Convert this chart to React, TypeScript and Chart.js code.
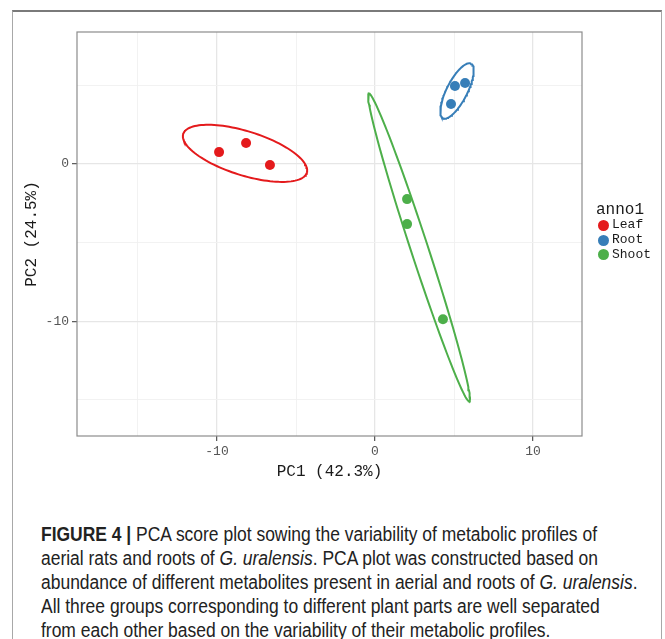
import React, { useEffect, useLayoutEffect, useRef } from "react";
import { Chart, registerables } from "chart.js";
Chart.register(...registerables);

// ---- data ----
const groups = ["Leaf", "Root", "Shoot"];
const groupColors = ["#E41A1C", "#377EB8", "#4DAF4A"];
const leafPC1 = [-9.87, -8.16, -6.65];
const leafPC2 = [0.76, 1.34, -0.06];
const rootPC1 = [5.06, 5.7, 4.81];
const rootPC2 = [4.97, 5.16, 3.82];
const shootPC1 = [2.03, 2.03, 4.3];
const shootPC2 = [-2.23, -3.82, -9.87];
// confidence-ellipse shape per group (semi-axes in PC units, rotation in degrees)
const ellipseSemiMajor = [4.1, 1.95, 10.3];
const ellipseSemiMinor = [1.4, 0.65, 0.55];
const ellipseAngleDeg = [-17.5, 63, -72];
const xLimits = [-18.86, 13.1];
const yLimits = [-17.3, 8.4];
const xTickLabels = [-10, 0, 10];
const yTickLabels = [-10, 0];
const gridStep = 5;
const xTitle = "PC1 (42.3%)";
const yTitle = "PC2 (24.5%)";
const legendTitle = "anno1";

const MONO = "'Liberation Mono', 'DejaVu Sans Mono', monospace";
const CAPTION_FONT = "'Liberation Sans', Arial, sans-serif";

function mean(a: number[]) {
  return a.reduce((s, v) => s + v, 0) / a.length;
}

function ellipseOutline(cx: number, cy: number, a: number, b: number, deg: number) {
  const th = (deg * Math.PI) / 180;
  const pts: { x: number; y: number }[] = [];
  const n = 120;
  for (let i = 0; i <= n; i++) {
    const t = (i / n) * Math.PI * 2;
    pts.push({
      x: cx + a * Math.cos(t) * Math.cos(th) - b * Math.sin(t) * Math.sin(th),
      y: cy + a * Math.cos(t) * Math.sin(th) + b * Math.sin(t) * Math.cos(th),
    });
  }
  return pts;
}

const frameBorder = {
  id: "frameBorder",
  afterDraw(chart: any) {
    const { ctx, chartArea } = chart;
    ctx.save();
    ctx.strokeStyle = "#8c8c8c";
    ctx.lineWidth = 1.2;
    ctx.strokeRect(chartArea.left, chartArea.top, chartArea.right - chartArea.left, chartArea.bottom - chartArea.top);
    ctx.restore();
  },
};

function buildTicks(scale: any) {
  const ticks: { value: number }[] = [];
  const start = Math.ceil(scale.min / gridStep) * gridStep;
  for (let v = start; v <= scale.max; v += gridStep) ticks.push({ value: v });
  scale.ticks = ticks;
}

export default function App() {
  const ref = useRef<HTMLCanvasElement>(null);
  const capRef = useRef<HTMLDivElement>(null);
  const line2Ref = useRef<HTMLSpanElement>(null);

  useLayoutEffect(() => {
    // condense caption horizontally so the second line spans the same width as in the figure
    if (capRef.current && line2Ref.current) {
      const w = line2Ref.current.getBoundingClientRect().width;
      if (w > 0) capRef.current.style.transform = `scaleX(${557 / w})`;
    }
  }, []);

  useEffect(() => {
    const xs = [leafPC1, rootPC1, shootPC1];
    const ys = [leafPC2, rootPC2, shootPC2];
    const pointSets = groups.map((g, i) => ({
      type: "scatter" as const,
      label: g,
      data: xs[i].map((x, j) => ({ x, y: ys[i][j] })),
      backgroundColor: groupColors[i],
      borderWidth: 0,
      pointRadius: 5,
      order: 1,
    }));
    const ellipseSets = groups.map((g, i) => ({
      type: "scatter" as const,
      label: g + " ellipse",
      data: ellipseOutline(mean(xs[i]), mean(ys[i]), ellipseSemiMajor[i], ellipseSemiMinor[i], ellipseAngleDeg[i]),
      showLine: true,
      borderColor: groupColors[i],
      borderWidth: 2,
      pointRadius: 0,
      fill: false,
      tension: 0,
      order: 0,
    }));

    const isX = (v: number) => xTickLabels.some((t) => Math.abs(t - v) < 1e-9);
    const isY = (v: number) => yTickLabels.some((t) => Math.abs(t - v) < 1e-9);

    const chart = new Chart(ref.current!, {
      type: "scatter",
      data: { datasets: [...pointSets, ...ellipseSets] as any },
      plugins: [frameBorder],
      options: {
        animation: false,
        responsive: false,
        maintainAspectRatio: false,
        layout: { padding: { top: 32, right: 83, left: 0, bottom: 0 } },
        plugins: { legend: { display: false }, tooltip: { enabled: false } },
        scales: {
          x: {
            type: "linear",
            min: xLimits[0],
            max: xLimits[1],
            afterBuildTicks: buildTicks,
            afterFit: (s: any) => {
              s.height = 64;
            },
            border: { display: false },
            grid: {
              color: (c: any) => (c.tick && isX(c.tick.value) ? "#e6e6e6" : "#f1f1f1"),
              lineWidth: (c: any) => (c.tick && isX(c.tick.value) ? 1.3 : 0.9),
              tickColor: (c: any) => (c.tick && isX(c.tick.value) ? "#555555" : "rgba(0,0,0,0)"),
              tickLength: 5,
              tickWidth: 1.2,
            },
            ticks: {
              autoSkip: false,
              maxRotation: 0,
              padding: 3,
              color: "#555555",
              font: { family: MONO, size: 13 },
              callback: (v: any) => (isX(Number(v)) ? String(v) : ""),
            },
            title: {
              display: true,
              text: xTitle,
              color: "#1a1a1a",
              font: { family: MONO, size: 16 },
              padding: { top: 0, bottom: 19 },
            },
          },
          y: {
            type: "linear",
            min: yLimits[0],
            max: yLimits[1],
            afterBuildTicks: buildTicks,
            afterFit: (s: any) => {
              s.width = 77;
            },
            border: { display: false },
            grid: {
              color: (c: any) => (c.tick && isY(c.tick.value) ? "#e6e6e6" : "#f1f1f1"),
              lineWidth: (c: any) => (c.tick && isY(c.tick.value) ? 1.3 : 0.9),
              tickColor: (c: any) => (c.tick && isY(c.tick.value) ? "#555555" : "rgba(0,0,0,0)"),
              tickLength: 5,
              tickWidth: 1.2,
            },
            ticks: {
              autoSkip: false,
              padding: 3,
              color: "#555555",
              font: { family: MONO, size: 13 },
              callback: (v: any) => (isY(Number(v)) ? String(v) : ""),
            },
            title: {
              display: true,
              text: yTitle,
              color: "#1a1a1a",
              font: { family: MONO, size: 16 },
              padding: { top: 22, bottom: 0 },
            },
          },
        },
      } as any,
    });
    return () => chart.destroy();
  }, []);

  const legendRowY = [225, 240, 254.5];
  const captionTop = 521.5;
  const lineH = 24.2;

  return (
    <div style={{ position: "absolute", left: 0, top: 0, width: 665, height: 639, overflow: "hidden", background: "#fff" }}>
      {/* outer figure frame */}
      <div
        style={{
          position: "absolute",
          left: 12,
          top: 10,
          width: 650,
          height: 640,
          borderTop: "2px solid #7a7a7a",
          borderLeft: "1.5px solid #a8a8a8",
          borderRight: "1.5px solid #a8a8a8",
          boxSizing: "border-box",
        }}
      />
      <canvas ref={ref} width={665} height={500} style={{ position: "absolute", left: 0, top: 0, width: 665, height: 500 }} />
      {/* legend */}
      <div style={{ position: "absolute", left: 596, top: 202, font: `16px ${MONO}`, lineHeight: "16px", color: "#1a1a1a" }}>
        {legendTitle}
      </div>
      {groups.map((g, i) => (
        <React.Fragment key={g}>
          <div
            style={{
              position: "absolute",
              left: 597.5,
              top: legendRowY[i] - 5.5,
              width: 11,
              height: 11,
              borderRadius: "50%",
              background: groupColors[i],
            }}
          />
          <div
            style={{
              position: "absolute",
              left: 612,
              top: legendRowY[i] - 7,
              font: `13px ${MONO}`,
              lineHeight: "14px",
              color: "#1a1a1a",
            }}
          >
            {g}
          </div>
        </React.Fragment>
      ))}
      {/* caption */}
      <div
        ref={capRef}
        style={{
          position: "absolute",
          left: 41,
          top: captionTop,
          fontFamily: CAPTION_FONT,
          fontSize: 19.5,
          lineHeight: `${lineH}px`,
          color: "#222222",
          whiteSpace: "nowrap",
          transformOrigin: "0 0",
        }}
      >
        <div>
          <b>FIGURE 4 |</b> PCA score plot sowing the variability of metabolic profiles of
        </div>
        <div>
          <span ref={line2Ref}>
            aerial rats and roots of <i>G. uralensis</i>. PCA plot was constructed based on
          </span>
        </div>
        <div>
          abundance of different metabolites present in aerial and roots of <i>G. uralensis</i>.
        </div>
        <div>All three groups corresponding to different plant parts are well separated</div>
        <div>from each other based on the variability of their metabolic profiles.</div>
      </div>
    </div>
  );
}
